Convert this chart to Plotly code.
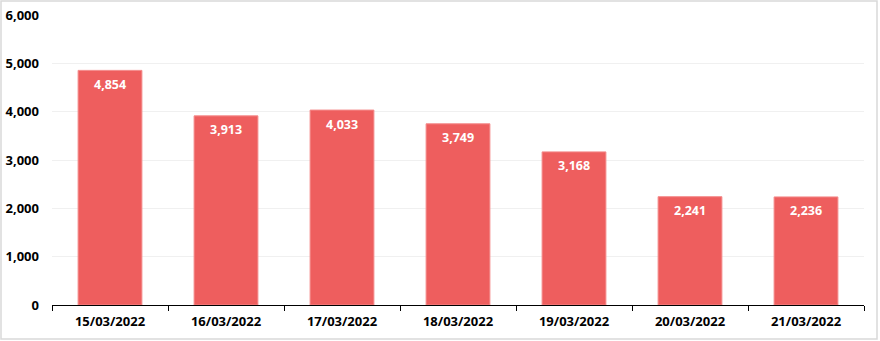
import plotly.graph_objects as go

dates = ["15/03/2022", "16/03/2022", "17/03/2022", "18/03/2022",
         "19/03/2022", "20/03/2022", "21/03/2022"]
values = [4854, 3913, 4033, 3749, 3168, 2241, 2236]
y_ticks = [0, 1000, 2000, 3000, 4000, 5000, 6000]

W, H = 880, 341
L, R, T, B = 52, 16, 15, 36
pw, ph = W - L - R, H - T - B

def px_to_paper(x, y):
    return (x - L) / pw, (H - B - y) / ph

x0, y0 = px_to_paper(1, 339)
x1, y1 = px_to_paper(877, 1)

fig = go.Figure(go.Bar(
    x=dates, y=values,
    marker=dict(color="#EE5E5E", line=dict(color="#F48A8A", width=1)),
    width=0.55,
))

annotations = [dict(x=d, y=v, xref="x", yref="y", text=f"{v:,}", showarrow=False,
                    yshift=-14, yanchor="middle",
                    font=dict(color="white", size=12.5, family="Open Sans", weight="bold"))
               for d, v in zip(dates, values)]

fig.update_layout(
    width=W, height=H,
    margin=dict(l=L, r=R, t=T, b=B, autoexpand=False),
    paper_bgcolor="white", plot_bgcolor="white",
    showlegend=False,
    annotations=annotations,
    shapes=[dict(type="rect", xref="paper", yref="paper",
                 x0=x0, x1=x1, y0=y0, y1=y1,
                 line=dict(color="#D9D9D9", width=1.5), layer="below")],
)
fig.update_yaxes(range=[0, 6000], tickvals=y_ticks, tickformat=",",
                 showgrid=True, gridcolor="#F0F0F0", zeroline=False,
                 showline=False, ticks="", automargin=False,
                 ticklabelstandoff=12,
                 tickfont=dict(family="Open Sans", size=13, color="black", weight="bold"))
fig.update_xaxes(showline=True, linecolor="black", linewidth=1.2,
                 ticks="outside", tickson="boundaries", ticklen=5, tickcolor="black",
                 showgrid=False, automargin=False, ticklabelstandoff=4,
                 tickfont=dict(family="Open Sans", size=13, color="black", weight="bold"))

fig.write_html("out.html")
